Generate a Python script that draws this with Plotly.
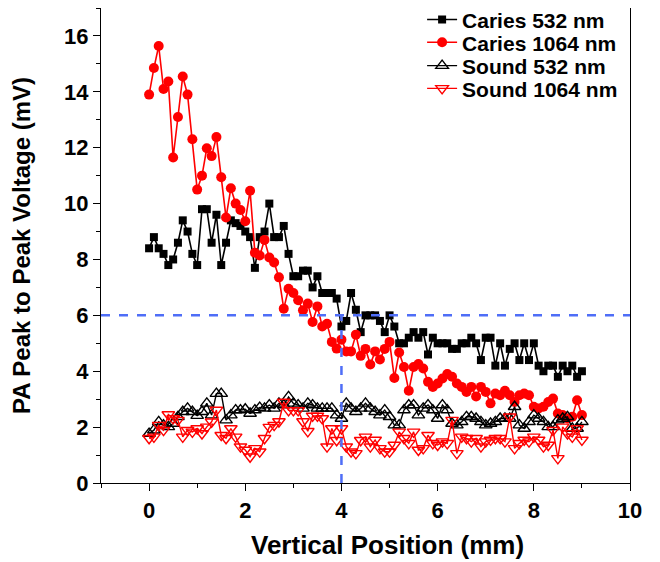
import plotly.graph_objects as go

positions = [round(i * 0.1, 1) for i in range(91)]

caries_532 = [8.4, 8.8, 8.4, 8.2, 7.8, 8.0, 8.6, 9.4, 9.0, 8.2,
              7.8, 9.8, 9.8, 8.6, 9.6, 7.8, 8.6, 9.4, 9.3, 9.2,
              9.0, 8.8, 7.7, 8.8, 9.0, 10.0, 8.8, 8.8, 9.2, 8.2,
              7.4, 7.4, 7.6, 7.6, 7.0, 7.4, 6.8, 6.8, 6.8, 6.6,
              5.6, 5.8, 6.8, 6.2, 5.4, 6.0, 6.0, 6.0, 5.8, 5.4,
              6.0, 5.6, 5.0, 5.0, 5.2, 5.4, 5.2, 5.4, 4.6,
              5.2, 5.0, 5.0, 5.0, 4.8, 4.8, 5.0, 5.0, 5.2, 5.0,
              4.4, 5.2, 5.2, 4.2, 5.0, 4.2, 4.8, 5.0, 4.4, 5.0,
              4.4, 5.0, 4.2, 4.0, 4.2, 4.2, 3.8, 4.2, 4.0, 4.2,
              3.8, 4.0]

caries_1064 = [13.9, 14.85, 15.64, 14.1, 14.37, 11.65, 13.1, 14.55, 13.9, 12.3,
               10.5, 11.0, 11.98, 11.7, 12.38, 10.94, 9.5, 10.55, 10.0, 9.77,
               9.37, 10.46, 8.24, 8.14, 8.7, 8.07, 7.89, 7.36, 6.24, 6.95,
               6.8, 6.54, 6.18, 6.42, 5.76, 6.32, 5.6, 5.7, 5.05, 4.81,
               5.13, 4.71, 4.71, 5.31, 4.55, 4.8, 4.24, 4.71, 4.42, 4.8,
               5.05, 3.76, 4.67, 4.15, 3.3, 4.15, 4.26, 4.1, 3.62, 3.44,
               3.56, 3.74, 3.9, 3.8, 3.56, 3.44, 3.26, 3.44, 3.1, 3.44,
               3.26, 2.85, 3.2, 3.14, 3.3, 3.14, 2.9, 3.14, 3.2, 3.14,
               2.73, 2.67, 2.73, 2.9, 3.02, 2.49, 2.43, 2.31, 2.37, 2.96,
               2.43]

sound_532 = [1.77, 1.89, 2.19, 2.07, 2.01, 2.13, 2.37, 2.55, 2.67, 2.55,
             2.41, 2.55, 2.85, 2.43, 3.2, 3.2, 2.25, 2.43, 2.61, 2.61,
             2.64, 2.49, 2.61, 2.7, 2.67, 2.79, 2.67, 2.85, 2.79, 3.08,
             2.85, 2.79, 2.67, 2.85, 2.79, 2.67, 2.67, 2.67, 2.67, 2.43,
             2.31, 2.85, 2.67, 2.55, 2.67, 2.85, 2.67, 2.55, 2.43, 2.61,
             2.37, 2.07, 2.07, 2.61, 2.79, 2.79, 2.43, 2.67, 2.79, 2.61,
             2.31, 2.79, 2.61, 2.13, 2.07, 2.19, 2.37, 2.37, 2.31, 2.19,
             2.07, 2.13, 2.19, 2.31, 2.31, 2.31, 2.73, 2.07, 1.95, 2.19,
             2.43, 2.31, 2.19, 2.01, 2.01, 2.25, 2.31, 2.37, 1.95, 1.95,
             2.19]

sound_1064 = [1.6, 1.65, 2.07, 1.89, 2.45, 2.31, 2.25, 1.65, 1.89, 1.83,
              1.95, 1.77, 2.01, 2.19, 2.61, 1.71, 1.6, 1.95, 1.65, 1.3,
              1.18, 0.94, 1.24, 1.12, 1.6, 2.0, 2.07, 2.2, 2.9, 2.6,
              2.6, 2.6, 2.2, 1.85, 2.4, 2.4, 2.31, 1.3, 1.95, 1.53,
              1.95, 1.3, 1.12, 1.06, 1.53, 1.65, 1.3, 1.54, 1.24, 1.12,
              1.12, 1.36, 1.83, 1.6, 1.42, 1.83, 1.18, 1.24, 1.71, 1.42,
              1.36, 1.48, 1.42, 2.25, 1.06, 1.65, 1.6, 1.48, 1.6, 1.3,
              1.48, 1.54, 1.6, 1.6, 1.48, 2.37, 1.24, 1.42, 1.54, 1.48,
              1.65, 1.54, 1.3, 1.36, 1.89, 0.88, 2.01, 1.77, 1.65, 1.95,
              1.54]

threshold_y = 6
threshold_x = 4

FONT = "Liberation Sans, Arial, sans-serif"

fig = go.Figure()
fig.add_trace(go.Scatter(x=positions, y=caries_532, mode="lines+markers", name="Caries 532 nm",
                         legend="legend",
                         line=dict(color="black", width=1.6),
                         marker=dict(symbol="square", size=8, color="black")))
fig.add_trace(go.Scatter(x=positions, y=caries_1064, mode="lines+markers", name="Caries 1064 nm",
                         legend="legend2",
                         line=dict(color="#ff0000", width=1.6),
                         marker=dict(symbol="circle", size=10, color="#ff0000")))
fig.add_trace(go.Scatter(x=positions, y=sound_532, mode="lines+markers", name="Sound 532 nm",
                         legend="legend3",
                         line=dict(color="black", width=1.4),
                         marker=dict(symbol="triangle-up-open", size=11, color="black",
                                     line=dict(width=1.4))))
fig.add_trace(go.Scatter(x=positions, y=sound_1064, mode="lines+markers", name="Sound 1064 nm",
                         legend="legend4",
                         line=dict(color="#ff0000", width=1.4),
                         marker=dict(symbol="triangle-down-open", size=11, color="#ff0000",
                                     line=dict(width=1.4))))

fig.add_shape(type="line", xref="x", yref="y", x0=-1, x1=10, y0=threshold_y, y1=threshold_y,
              line=dict(color="#4f6ef7", width=2.5, dash="dash"))
fig.add_shape(type="line", xref="x", yref="y", x0=threshold_x, x1=threshold_x, y0=0, y1=threshold_y,
              line=dict(color="#4f6ef7", width=2.5, dash="dash"))

axis_common = dict(showline=True, linecolor="black", linewidth=1.3, mirror=True,
                   ticks="outside", ticklen=7, tickwidth=1.3, tickcolor="black",
                   showgrid=False, zeroline=False, automargin=False,
                   tickfont=dict(family=FONT, size=22, color="black", weight="bold"))

fig.update_xaxes(range=[-1, 10], dtick=2, tick0=0,
                 minor=dict(dtick=1, tick0=0, ticks="outside", ticklen=4, tickwidth=1.3, tickcolor="black"),
                 **axis_common)
fig.update_yaxes(range=[0, 17], dtick=2, tick0=0,
                 minor=dict(dtick=1, tick0=0, ticks="outside", ticklen=4, tickwidth=1.3, tickcolor="black"),
                 title=dict(text="<b>PA Peak to Peak Voltage (mV)</b>", font=dict(family=FONT, size=24, color="black"),
                            standoff=30),
                 **axis_common)

# x-axis title (placed slightly right of centre, as in the reference)
fig.add_annotation(text="<b>Vertical Position (mm)</b>", xref="paper", yref="paper",
                   x=0.5425, y=-0.13, xanchor="center", yanchor="middle", showarrow=False,
                   font=dict(family=FONT, size=26, color="black"))

legend_font = dict(family=FONT, size=21, color="black", weight="bold")
legend_rows_y = [0.975, 0.927, 0.878, 0.830]
legend_style = dict(x=0.607, xanchor="left", yanchor="middle",
                    bgcolor="rgba(0,0,0,0)", borderwidth=0, font=legend_font)

fig.update_layout(width=652, height=554,
                  margin=dict(l=93, r=30, t=0, b=79, autoexpand=False),
                  paper_bgcolor="white", plot_bgcolor="white",
                  font=dict(family=FONT, color="black"),
                  showlegend=True,
                  legend=dict(y=legend_rows_y[0], **legend_style),
                  legend2=dict(y=legend_rows_y[1], **legend_style),
                  legend3=dict(y=legend_rows_y[2], **legend_style),
                  legend4=dict(y=legend_rows_y[3], **legend_style))

fig.write_html("out.html")
